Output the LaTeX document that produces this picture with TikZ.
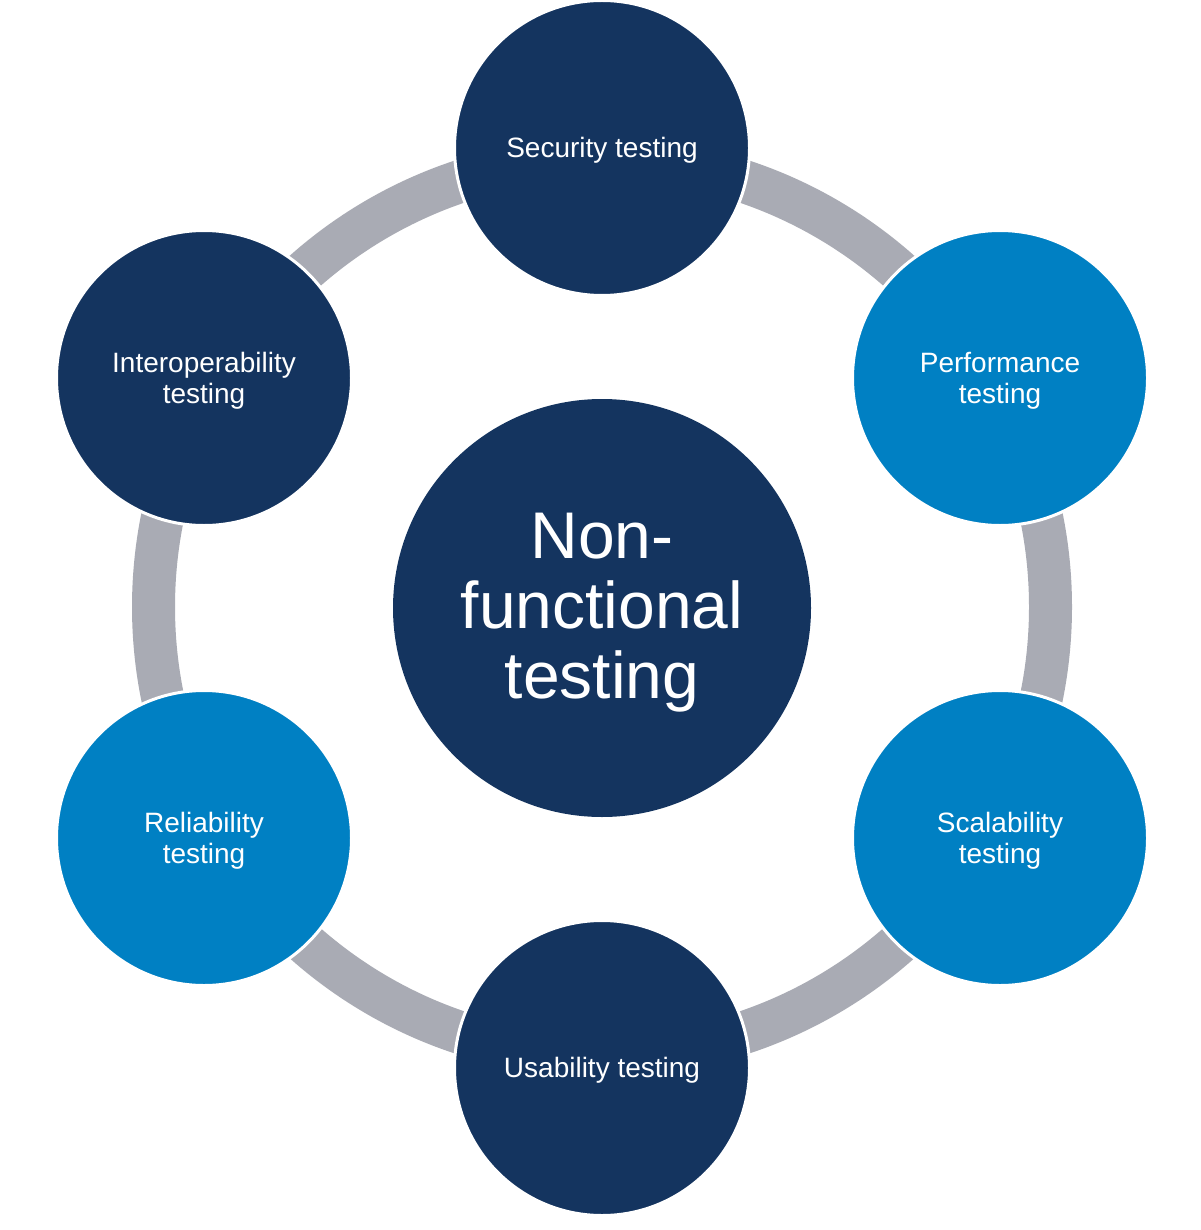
\documentclass[tikz,border=0pt]{standalone}
\usepackage{fontspec}
\setmainfont{Liberation Sans}
\definecolor{navy}{HTML}{14345F}
\definecolor{bluec}{HTML}{0080C3}
\definecolor{ringc}{HTML}{A9ABB4}
\begin{document}
\begin{tikzpicture}[x=1pt,y=-1pt,
  outer/.style={circle,minimum size=295pt,inner sep=0pt,draw=white,line width=3pt},
  navyc/.style={outer,fill=navy},
  bluecc/.style={outer,fill=bluec},
  lbl/.style={text=white,align=center,inner sep=0pt,font=\fontsize{28}{31}\selectfont},
  hub/.style={circle,minimum size=418pt,inner sep=0pt,fill=navy},
  hublbl/.style={text=white,align=center,inner sep=0pt,font=\fontsize{66}{70}\selectfont}]
\useasboundingbox[fill=white] (0,0) rectangle (1200,1230);
\coordinate (c) at (602,607);
\draw[ringc,line width=43pt] (c) circle[radius=448.5pt];
\node[hub] (center) at (602,608) {};
\node[hublbl] (centerl) at ([yshift=-5pt]center.center) {Non-\\functional\\testing};
\node[navyc] (sec) at (602,148) {};
\node[bluecc] (perf) at (1000,378) {};
\node[bluecc] (scal) at (1000,838) {};
\node[navyc] (usab) at (602,1068) {};
\node[bluecc] (rel) at (204,838) {};
\node[navyc] (inter) at (204,378) {};
\node[lbl] (secl) at ([yshift=-2.5pt]sec.center) {Security testing};
\node[lbl] (perfl) at ([yshift=-2.5pt]perf.center) {Performance\\testing};
\node[lbl] (scall) at ([yshift=-2.5pt]scal.center) {Scalability\\testing};
\node[lbl] (usabl) at ([yshift=-2.5pt]usab.center) {Usability testing};
\node[lbl] (rell) at ([yshift=-2.5pt]rel.center) {Reliability\\testing};
\node[lbl] (interl) at ([yshift=-2.5pt]inter.center) {Interoperability\\testing};
\end{tikzpicture}
\end{document}
